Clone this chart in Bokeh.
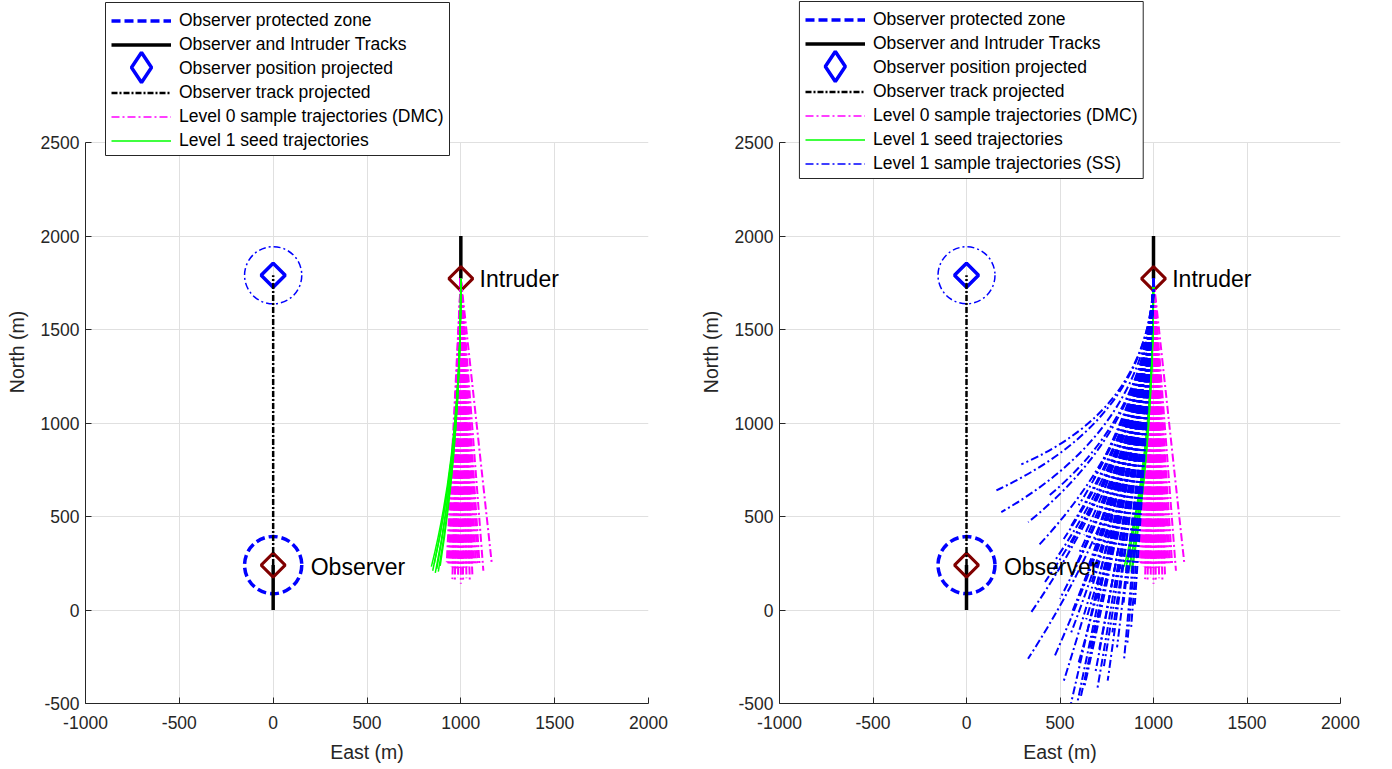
from bokeh.plotting import figure
from bokeh.models import Range1d, FixedTicker, Legend, LegendItem, Grid
from bokeh.layouts import row
from bokeh.embed import file_html
from bokeh.resources import INLINE
from bokeh.core.properties import value

FONT = "Liberation Sans"
INK = "#262626"
DARK_RED = "#800000"
NAN = float("nan")

# axes
x_ticks = [-1000, -500, 0, 500, 1000, 1500, 2000]
y_ticks = [-500, 0, 500, 1000, 1500, 2000, 2500]
x_lim = (-1000, 2000)
y_lim = (-500, 2500)

# encounter geometry, East / North in metres
obs_track_x = [0, 0]
obs_track_y = [0, 240]
obs_now_x, obs_now_y = 0, 240
obs_proj_x, obs_proj_y = 0, 1790
intr_track_x = [1000, 1000]
intr_track_y = [2000, 1772]
intr_now_x, intr_now_y = 1000, 1772
zone_radius = 152.4

# Level 0 sample trajectories (DMC): end points
dmc_end_x = [925, 932, 938, 944, 950, 955, 960, 965, 970, 975, 980, 985, 990, 995,
             1000, 1005, 1010, 1015, 1020, 1026, 1032, 1038, 1044, 1050, 1057, 1064,
             1072, 1080, 1090, 1100, 1165, 955, 968, 985, 1000, 1012, 1030, 1048,
             1062, 1120]
dmc_end_y = [255, 240, 248, 232, 245, 228, 240, 225, 236, 222, 232, 226, 238, 224,
             230, 236, 222, 234, 226, 238, 228, 240, 232, 244, 236, 246, 238, 250,
             244, 240, 248, 165, 150, 172, 140, 158, 170, 148, 175, 210]

# Level 1 seed trajectories: end point and control-point North
seed_end_x = [843, 850, 858, 864, 872, 880, 890]
seed_end_y = [232, 210, 245, 198, 220, 205, 236]
seed_ctrl_y = [860, 870, 900, 880, 910, 895, 930]

# Level 1 sample trajectories (SS): end point and control point
ss_end_x = [293, 160, 186, 442, 382, 330,
            346, 420, 470, 520, 560, 600, 500, 568, 620, 650, 680, 700, 740, 760,
            790, 820, 840, 860, 880, 710, 650, 600, 760, 820, 560, 630,
            329, 545, 575, 630, 600, 660, 710, 755, 780, 843, 880, 900, 470, 520, 690,
            610, 735, 805, 560, 640, 700, 860, 750, 670, 590, 540, 800, 720, 680, 840]
ss_end_y = [779, 640, 524, 612, 342, 470,
            -12, 150, 260, 380, 180, 300, 60, -3, 120, 230, 350, 60, 180, 300,
            100, 220, 40, 140, 260, 450, 500, 560, 520, 480, 450, 400,
            -261, -560, -580, -413, -280, -200, -208, -378, -120, -261, -100, 30,
            -250, -380, -330,
            -470, -300, -200, -120, -50, -420, -180, 0, 150, 250, 320, 350, 600, 700, 600]
ss_ctrl_x = [985, 985, 985, 990, 990, 990,
             995, 995, 995, 995, 995, 995, 995, 995, 995, 995, 995, 995, 995, 995,
             995, 995, 995, 995, 995, 995, 995, 995, 995, 995, 995, 995,
             1000, 1000, 1000, 1000, 1000, 1000, 1000, 1000, 1000, 1000, 1000, 1000,
             1000, 1000, 1000,
             1000, 1000, 1000, 1000, 1000, 1000, 1000, 1000, 995, 995, 995, 995, 995,
             995, 995]
ss_ctrl_y = [1080, 1025, 980, 1070, 990, 1000,
             943, 990, 1040, 1090, 1080, 1130, 1010, 1060, 1120, 1170, 1220, 1180,
             1240, 1300, 1300, 1360, 1380, 1420, 1480, 1280, 1230, 1200, 1350, 1400,
             1150, 1190,
             780, 1420, 1450, 1250, 1150, 1200, 1260, 1380, 1320, 1480, 1500, 1520,
             950, 1150, 1300,
             1300, 1330, 1400, 1050, 1150, 1330, 1480, 1280, 1180, 1110, 1080, 1380,
             1320, 1300, 1450]

DASH_DOT = "8 3 2 3"

# frame geometry: the frame runs up to the top of the canvas so the legend can
# sit above the 2500 m line; the axis line and grid stop at the axes limits
FRAME_W, FRAME_H_AXES, FRAME_TOP_GAP = 563, 561, 142
y_top = y_lim[0] + (y_lim[1] - y_lim[0]) * (FRAME_H_AXES + FRAME_TOP_GAP) / FRAME_H_AXES
x_px = FRAME_W / (x_lim[1] - x_lim[0])
y_px = FRAME_H_AXES / (y_lim[1] - y_lim[0])

# legend layout (pixels)
LEG_LEFT, LEG_PAD, GLYPH_W, ROW_H, ROW_GAP = 20, 6, 60, 21, 3


def style_axes(p):
    p.outline_line_color = None
    for ax, ticks in ((p.xaxis, x_ticks), (p.yaxis, y_ticks)):
        ax.ticker = FixedTicker(ticks=ticks)
        ax.major_label_overrides = {t: str(t) for t in ticks}
        ax.axis_line_color = INK
        ax.major_tick_line_color = INK
        ax.major_tick_in = 6
        ax.major_tick_out = 0
        ax.minor_tick_line_color = None
        ax.major_label_text_font = FONT
        ax.major_label_text_font_size = "17.5px"
        ax.major_label_text_color = INK
        ax.axis_label_text_font = FONT
        ax.axis_label_text_font_size = "19.5px"
        ax.axis_label_text_font_style = "normal"
        ax.axis_label_text_color = INK
    p.yaxis.bounds = y_lim
    p.xaxis.axis_label = "East (m)"
    p.yaxis.axis_label = "North (m)"
    p.xaxis.major_label_standoff = 12
    p.yaxis.major_label_standoff = 6
    p.xaxis.axis_label_standoff = 9
    p.yaxis.axis_label_standoff = 10
    p.grid.grid_line_color = "#e0e0e0"
    if "cross_bounds" in Grid.properties():
        p.xgrid.cross_bounds = y_lim
        p.ygrid.cross_bounds = x_lim
    else:
        p.quad(left=[x_lim[0]], right=[x_lim[1]], bottom=[y_lim[1]], top=[y_top],
               fill_color="white", line_color=None, level="underlay")


def panel(show_ss, border_left, border_right, legend_bottom, legend_w, n_rows):
    p = figure(width=696, height=769,
               x_range=Range1d(*x_lim), y_range=Range1d(y_lim[0], y_top),
               output_backend="svg", toolbar_location=None,
               min_border_left=border_left, min_border_right=border_right,
               min_border_top=0, min_border_bottom=66)
    style_axes(p)

    # legend box: white panel with a thin border, under the legend entries
    leg_h = n_rows * ROW_H + (n_rows - 1) * ROW_GAP + 2 * LEG_PAD
    box_left = x_lim[0] + LEG_LEFT / x_px
    box_bottom = y_lim[0] + (legend_bottom + 2) / y_px
    p.quad(left=[box_left], right=[box_left + legend_w / x_px],
           bottom=[box_bottom], top=[box_bottom + leg_h / y_px],
           fill_color="white", line_color=INK, line_width=1)

    # full-size diamond swatch for the third legend row
    key_sx = LEG_LEFT + LEG_PAD + GLYPH_W / 2
    key_sy = legend_bottom + leg_h - LEG_PAD - 2 * (ROW_H + ROW_GAP) - ROW_H / 2 + 1.5
    p.scatter(x=[x_lim[0] + key_sx / x_px], y=[y_lim[0] + key_sy / y_px],
              marker="diamond", size=30, fill_color=None, line_color="blue",
              line_width=3.5)

    # protected zones: current (dashed) and projected (dash-dot)
    p.circle(x=[obs_now_x], y=[obs_now_y], radius=zone_radius, fill_color=None,
             line_color="blue", line_width=3.5, line_dash="9 4")
    p.circle(x=[obs_proj_x], y=[obs_proj_y], radius=zone_radius, fill_color=None,
             line_color="blue", line_width=1.5, line_dash="7 3 2 3")

    # flown tracks
    tracks = p.line(obs_track_x, obs_track_y, line_color="black", line_width=3.5)
    p.line(intr_track_x, intr_track_y, line_color="black", line_width=3.5)

    # current positions
    p.scatter(x=[obs_now_x, intr_now_x], y=[obs_now_y, intr_now_y], marker="square",
              angle=45, angle_units="deg", size=17, fill_color=None,
              line_color=DARK_RED, line_width=3)

    # projected observer position and track
    p.scatter(x=[obs_proj_x], y=[obs_proj_y], marker="square",
              angle=45, angle_units="deg", size=17, fill_color=None,
              line_color="blue", line_width=3.5)
    proj_track = p.line([obs_now_x, obs_proj_x], [obs_now_y, obs_proj_y],
                        line_color="black", line_width=2.5, line_dash="6 2 2 2")

    # Level 0 samples
    n = len(dmc_end_x)
    p.segment(x0=[intr_now_x] * n, y0=[intr_now_y] * n, x1=dmc_end_x, y1=dmc_end_y,
              line_color="#ff00ff", line_width=2, line_dash=DASH_DOT)

    # Level 1 seeds
    m = len(seed_end_x)
    p.quadratic(x0=[intr_now_x] * m, y0=[intr_now_y] * m, x1=seed_end_x, y1=seed_end_y,
                cx=[intr_now_x] * m, cy=seed_ctrl_y, line_color="#00ff00", line_width=1.5)

    # Level 1 subset-simulation samples
    if show_ss:
        k = len(ss_end_x)
        p.quadratic(x0=[intr_now_x] * k, y0=[intr_now_y] * k, x1=ss_end_x, y1=ss_end_y,
                    cx=ss_ctrl_x, cy=ss_ctrl_y, line_color="blue",
                    line_width=2, line_dash=DASH_DOT)

    # aircraft labels
    p.text(x=[obs_now_x + 200, intr_now_x + 100], y=[obs_now_y - 10, intr_now_y],
           text=["Observer", "Intruder"], text_font=value(FONT), text_font_size="23px",
           text_baseline="middle", text_align="left", text_color="black")

    # legend swatches (NaN points: drawn only in the legend)
    def key_line(**kw):
        return p.line([NAN, NAN], [NAN, NAN], **kw)

    zone_key = key_line(line_color="blue", line_width=3.5, line_dash="9 4")
    proj_key = key_line(line_alpha=0)
    dmc_key = key_line(line_color="#ff00ff", line_width=1.5, line_dash=DASH_DOT)
    seed_key = key_line(line_color="#00ff00", line_width=1.5)
    items = [
        LegendItem(label="Observer protected zone", renderers=[zone_key]),
        LegendItem(label="Observer and Intruder Tracks", renderers=[tracks]),
        LegendItem(label="Observer position projected", renderers=[proj_key]),
        LegendItem(label="Observer track projected", renderers=[proj_track]),
        LegendItem(label="Level 0 sample trajectories (DMC)", renderers=[dmc_key]),
        LegendItem(label="Level 1 seed trajectories", renderers=[seed_key]),
    ]
    if show_ss:
        ss_key = key_line(line_color="blue", line_width=1.5, line_dash=DASH_DOT)
        items.append(LegendItem(label="Level 1 sample trajectories (SS)", renderers=[ss_key]))

    # entries only: the box itself is the quad drawn above
    legend = Legend(items=items, location=(LEG_LEFT, legend_bottom),
                    border_line_color=INK, border_line_alpha=0, background_fill_alpha=0,
                    label_text_font=FONT, label_text_font_size="17.5px",
                    label_text_color="black",
                    glyph_width=GLYPH_W, glyph_height=ROW_H, label_height=ROW_H,
                    spacing=ROW_GAP, padding=LEG_PAD, label_standoff=8, margin=0)
    p.add_layout(legend)
    return p


left = panel(False, 85, 48, 546, 344, 6)
right = panel(True, 81, 52, 523, 345, 7)

layout = row(left, right)
open("out.html", "w").write(file_html(layout, INLINE))
